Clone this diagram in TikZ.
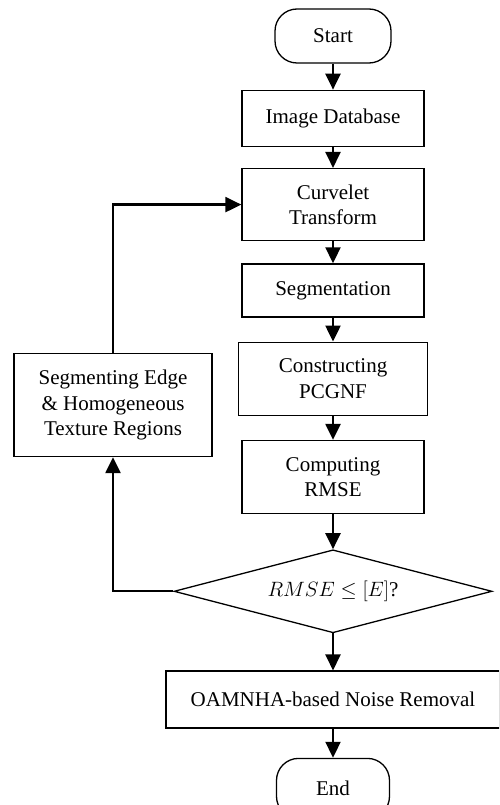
\documentclass[tikz,border=0pt]{standalone}
\usepackage{fontspec}
\setmainfont{Liberation Serif}
\usetikzlibrary{arrows.meta, positioning, shapes.geometric}

\begin{document}
\begin{tikzpicture}[
x=1pt, y=-1pt,
box/.style={rectangle, draw, line width=1.3pt, minimum width=182pt, minimum height=56pt, inner sep=2pt, align=center, font=\fontsize{21}{25.5}\selectfont},
term/.style={box, rounded corners=22pt, minimum width=116pt, minimum height=54pt},
decision/.style={diamond, draw, line width=1.3pt, aspect=3.83, minimum width=318pt, minimum height=83pt, inner sep=0pt, font=\fontsize{21}{25.5}\selectfont},
arrow/.style={-{Triangle[length=16pt, width=15pt]}, line width=2.3pt}
]
\clip (0,0) rectangle (499,805);

\node[term] (start) at (333,36) {Start};
\node[box, below=26pt of start] (database) {Image Database};
\node[box, below=21pt of database, minimum height=72pt] (curvelet) {Curvelet\\Transform};
\node[box, below=22pt of curvelet, minimum height=53pt] (segment) {Segmentation};
\node[box, below=24pt of segment, minimum width=189pt, minimum height=73pt] (pcgnf) {Constructing\\PCGNF};
\node[box, below=24pt of pcgnf, minimum height=73pt] (rmse) {Computing\\RMSE};
\node[decision, below=35pt of rmse] (check) {$RMSE \leq [E]$?};
\node[box, below=37pt of check, minimum width=334pt, minimum height=57pt] (removal) {OAMNHA-based Noise Removal};
\node[term, below=29pt of removal, minimum width=113pt, minimum height=60pt] (end) {End};
\node[box, minimum width=198pt, minimum height=103pt] (edges) at (113,405) {Segmenting Edge\\\& Homogeneous\\Texture Regions};

\draw[arrow] (start) -- (database);
\draw[arrow] (database) -- (curvelet);
\draw[arrow] (curvelet) -- (segment);
\draw[arrow] (segment) -- (pcgnf);
\draw[arrow] (pcgnf) -- (rmse);
\draw[arrow] (rmse) -- (check);
\draw[arrow] (check) -- (removal);
\draw[arrow] (removal) -- (end);
\draw[arrow] (check.west) -| (edges.south);
\draw[arrow] (edges.north) |- (curvelet.west);

\end{tikzpicture}
\end{document}
